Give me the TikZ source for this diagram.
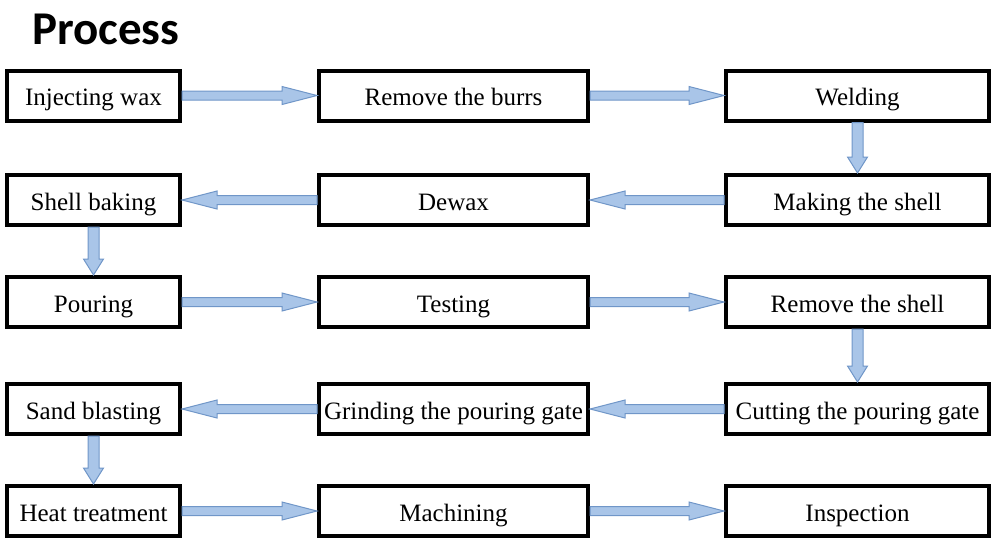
\documentclass[tikz,border=0pt]{standalone}
\usepackage{fontspec}
\setmainfont{Liberation Serif}
\newfontfamily\titlefont{Carlito}
\usetikzlibrary{calc}
\definecolor{arrfill}{HTML}{A9C5E8}
\definecolor{arrline}{HTML}{7096C8}
\tikzset{
  box/.style={draw=black, line width=4pt, fill=white, minimum height=50pt, inner sep=0pt,
    text height=26pt, text depth=6pt, font=\fontsize{25}{30}\selectfont},
  c1/.style={box, minimum width=173pt},
  c2/.style={box, minimum width=269pt},
  c3/.style={box, minimum width=263pt},
  arr/.style={fill=arrfill, draw=arrline, line width=1pt, line join=miter},
  title/.style={font=\titlefont\bfseries\fontsize{47}{52}\selectfont, inner sep=0pt, anchor=base west},
}
\newcommand\arrR[2]{\draw[arr] let \p1=(#1.east), \p2=(#2.west) in
  (\x1,\y1+4.5pt) -- (\x2-35pt,\y1+4.5pt) -- (\x2-35pt,\y1+9pt) -- (\x2,\y1)
  -- (\x2-35pt,\y1-9pt) -- (\x2-35pt,\y1-4.5pt) -- (\x1,\y1-4.5pt) -- cycle;}
\newcommand\arrL[2]{\draw[arr] let \p1=(#1.west), \p2=(#2.east) in
  (\x1,\y1+4.5pt) -- (\x2+35pt,\y1+4.5pt) -- (\x2+35pt,\y1+9pt) -- (\x2,\y1)
  -- (\x2+35pt,\y1-9pt) -- (\x2+35pt,\y1-4.5pt) -- (\x1,\y1-4.5pt) -- cycle;}
\newcommand\arrD[2]{\draw[arr] let \p1=(#1.south), \p2=(#2.north) in
  (\x1-5.5pt,\y1) -- (\x1-5.5pt,\y2+16pt) -- (\x1-10pt,\y2+16pt) -- (\x1,\y2)
  -- (\x1+10pt,\y2+16pt) -- (\x1+5.5pt,\y2+16pt) -- (\x1+5.5pt,\y1) -- cycle;}
\begin{document}
\begin{tikzpicture}[x=1pt,y=1pt]
\useasboundingbox (0,0) rectangle (1000,-547);
\node[title] (t) at (32,-44) {Process};
% row 1
\node[c1] (a1) at (93.5,-95.5) {Injecting wax};
\node[c2] (a2) at (453.5,-95.5) {Remove the burrs};
\node[c3] (a3) at (857.5,-95.5) {Welding};
% row 2
\node[c1] (b1) at (93.5,-200) {Shell baking};
\node[c2] (b2) at (453.5,-200) {Dewax};
\node[c3] (b3) at (857.5,-200) {Making the shell};
% row 3
\node[c1] (d1) at (93.5,-302) {Pouring};
\node[c2] (d2) at (453.5,-302) {Testing};
\node[c3] (d3) at (857.5,-302) {Remove the shell};
% row 4
\node[c1] (e1) at (93.5,-409) {Sand blasting};
\node[c2] (e2) at (453.5,-409) {Grinding the pouring gate};
\node[c3] (e3) at (857.5,-409) {Cutting the pouring gate};
% row 5
\node[c1] (f1) at (93.5,-511) {Heat treatment};
\node[c2] (f2) at (453.5,-511) {Machining};
\node[c3] (f3) at (857.5,-511) {Inspection};
% arrows
\arrR{a1}{a2}
\arrR{a2}{a3}
\arrD{a3}{b3}
\arrL{b3}{b2}
\arrL{b2}{b1}
\arrD{b1}{d1}
\arrR{d1}{d2}
\arrR{d2}{d3}
\arrD{d3}{e3}
\arrL{e3}{e2}
\arrL{e2}{e1}
\arrD{e1}{f1}
\arrR{f1}{f2}
\arrR{f2}{f3}
\end{tikzpicture}
\end{document}
